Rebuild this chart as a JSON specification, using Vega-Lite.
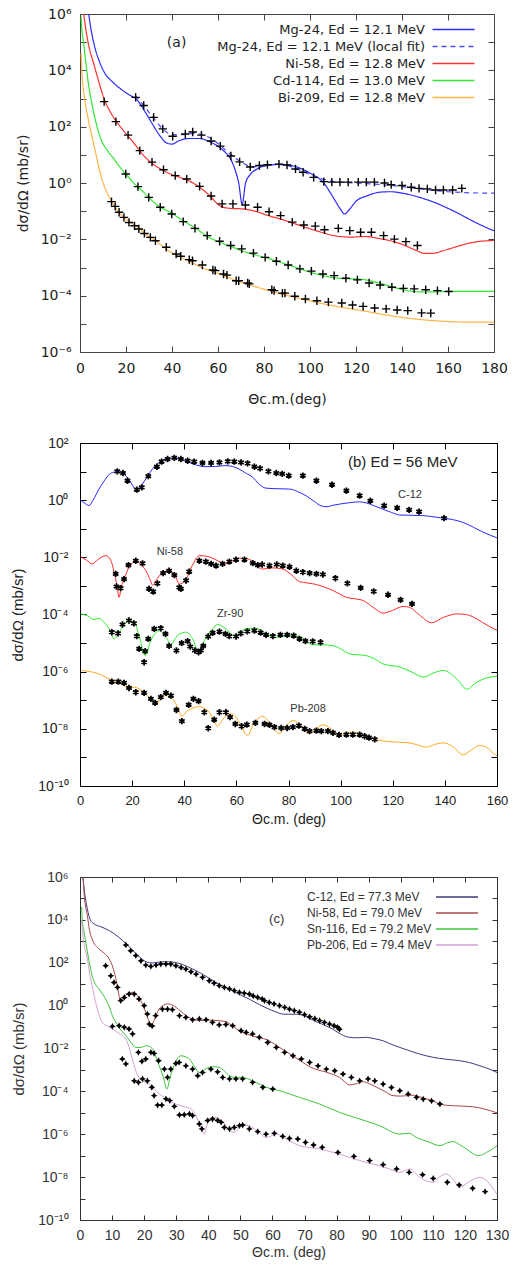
{
"$schema":"https://vega.github.io/schema/vega-lite/v6.json",
"background":"white",
"padding":{"left":10,"top":7,"right":5,"bottom":3},
"bounds":"flush",
"spacing":91,
"resolve":{"scale":{"color":"independent","strokeDash":"independent"},"legend":{"color":"independent","strokeDash":"independent"}},
"config":{"view":{"stroke":null},"axis":{"grid":false}},
"datasets":{
"aL":[
{"s":"Mg","x":3,"y":3.16e6},{"s":"Mg","x":4.5,"y":3.98e5},{"s":"Mg","x":6.5,"y":6.31e4},{"s":"Mg","x":8.5,"y":2.0e4},{"s":"Mg","x":10.5,"y":8.71e3},{"s":"Mg","x":14,"y":3.98e3},{"s":"Mg","x":17.7,"y":2.19e3},{"s":"Mg","x":21,"y":1.41e3},{"s":"Mg","x":24.8,"y":891},{"s":"Mg","x":28.5,"y":316},{"s":"Mg","x":32,"y":105},{"s":"Mg","x":35,"y":44.7},{"s":"Mg","x":37.7,"y":26.3},{"s":"Mg","x":40,"y":24},{"s":"Mg","x":43,"y":31.6},{"s":"Mg","x":47.5,"y":38},{"s":"Mg","x":52,"y":38},{"s":"Mg","x":56,"y":30.2},{"s":"Mg","x":60,"y":20},{"s":"Mg","x":63,"y":12.6},{"s":"Mg","x":65.5,"y":7.08},{"s":"Mg","x":67.5,"y":2.82},{"s":"Mg","x":69,"y":1.0},{"s":"Mg","x":70.5,"y":0.178},{"s":"Mg","x":72,"y":1.0},{"s":"Mg","x":74,"y":2.0},{"s":"Mg","x":77,"y":3.16},{"s":"Mg","x":81,"y":4.17},{"s":"Mg","x":87,"y":4.57},{"s":"Mg","x":93,"y":3.98},{"s":"Mg","x":100,"y":2.24},{"s":"Mg","x":106,"y":1.0},{"s":"Mg","x":110,"y":0.316},{"s":"Mg","x":113,"y":0.126},{"s":"Mg","x":115,"y":0.0794},{"s":"Mg","x":117,"y":0.112},{"s":"Mg","x":120,"y":0.224},{"s":"Mg","x":125,"y":0.355},{"s":"Mg","x":130,"y":0.468},{"s":"Mg","x":135,"y":0.49},{"s":"Mg","x":140,"y":0.437},{"s":"Mg","x":145,"y":0.355},{"s":"Mg","x":150,"y":0.269},{"s":"Mg","x":155,"y":0.191},{"s":"Mg","x":160,"y":0.126},{"s":"Mg","x":165,"y":0.0794},{"s":"Mg","x":170,"y":0.0479},{"s":"Mg","x":175,"y":0.0302},{"s":"Mg","x":180,"y":0.02},
{"s":"MgL","x":24,"y":1260},{"s":"MgL","x":28,"y":525},{"s":"MgL","x":32,"y":200},{"s":"MgL","x":36,"y":83.2},{"s":"MgL","x":40,"y":52.5},{"s":"MgL","x":45,"y":52.5},{"s":"MgL","x":50,"y":57.5},{"s":"MgL","x":55,"y":45.7},{"s":"MgL","x":60,"y":25.1},{"s":"MgL","x":65,"y":11.2},{"s":"MgL","x":70,"y":5.62},{"s":"MgL","x":75,"y":3.8},{"s":"MgL","x":80,"y":3.98},{"s":"MgL","x":85,"y":4.57},{"s":"MgL","x":90,"y":4.17},{"s":"MgL","x":95,"y":2.95},{"s":"MgL","x":100,"y":2.0},{"s":"MgL","x":105,"y":1.41},{"s":"MgL","x":110,"y":1.15},{"s":"MgL","x":115,"y":1.05},{"s":"MgL","x":120,"y":1.0},{"s":"MgL","x":130,"y":0.891},{"s":"MgL","x":140,"y":0.741},{"s":"MgL","x":150,"y":0.589},{"s":"MgL","x":160,"y":0.49},{"s":"MgL","x":170,"y":0.447},{"s":"MgL","x":180,"y":0.437},
{"s":"Ni","x":1.0,"y":2.51e6},{"s":"Ni","x":1.6,"y":1e6},{"s":"Ni","x":3.5,"y":1e5},{"s":"Ni","x":6.2,"y":1.48e4},{"s":"Ni","x":8.5,"y":3160},{"s":"Ni","x":10.5,"y":955},{"s":"Ni","x":13,"y":355},{"s":"Ni","x":16,"y":145},{"s":"Ni","x":19,"y":70.8},{"s":"Ni","x":22,"y":36.3},{"s":"Ni","x":25,"y":17.8},{"s":"Ni","x":27.7,"y":9.33},{"s":"Ni","x":31,"y":5.25},{"s":"Ni","x":35,"y":3.16},{"s":"Ni","x":39,"y":2.14},{"s":"Ni","x":43.5,"y":1.58},{"s":"Ni","x":48,"y":1.12},{"s":"Ni","x":52,"y":0.708},{"s":"Ni","x":56.4,"y":0.355},{"s":"Ni","x":60.7,"y":0.158},{"s":"Ni","x":65,"y":0.126},{"s":"Ni","x":70.8,"y":0.12},{"s":"Ni","x":76,"y":0.1},{"s":"Ni","x":82,"y":0.0692},{"s":"Ni","x":88,"y":0.0501},{"s":"Ni","x":93.5,"y":0.0355},{"s":"Ni","x":99,"y":0.0251},{"s":"Ni","x":105,"y":0.0178},{"s":"Ni","x":111,"y":0.0132},{"s":"Ni","x":118,"y":0.012},{"s":"Ni","x":124,"y":0.0126},{"s":"Ni","x":130,"y":0.0107},{"s":"Ni","x":135,"y":0.00891},{"s":"Ni","x":140,"y":0.00661},{"s":"Ni","x":145,"y":0.00447},{"s":"Ni","x":150,"y":0.00316},{"s":"Ni","x":153,"y":0.00316},{"s":"Ni","x":158,"y":0.00398},{"s":"Ni","x":163,"y":0.00525},{"s":"Ni","x":168,"y":0.00692},{"s":"Ni","x":173,"y":0.00832},{"s":"Ni","x":180,"y":0.00912},
{"s":"Cd","x":0.5,"y":7.94e5},{"s":"Cd","x":0.8,"y":2.95e5},{"s":"Cd","x":1.5,"y":1e5},{"s":"Cd","x":2.7,"y":1.48e4},{"s":"Cd","x":3.7,"y":3160},{"s":"Cd","x":4.8,"y":955},{"s":"Cd","x":6.5,"y":200},{"s":"Cd","x":9.1,"y":36.3},{"s":"Cd","x":12,"y":14.1},{"s":"Cd","x":14.8,"y":7.08},{"s":"Cd","x":17.5,"y":3.55},{"s":"Cd","x":20.5,"y":1.82},{"s":"Cd","x":24,"y":0.891},{"s":"Cd","x":27.7,"y":0.468},{"s":"Cd","x":31,"y":0.251},{"s":"Cd","x":35,"y":0.138},{"s":"Cd","x":39.2,"y":0.0912},{"s":"Cd","x":45,"y":0.0447},{"s":"Cd","x":50.7,"y":0.0234},{"s":"Cd","x":55,"y":0.0132},{"s":"Cd","x":60.7,"y":0.00794},{"s":"Cd","x":65.5,"y":0.00562},{"s":"Cd","x":70.8,"y":0.0038},{"s":"Cd","x":76,"y":0.00282},{"s":"Cd","x":82,"y":0.00209},{"s":"Cd","x":88,"y":0.00145},{"s":"Cd","x":93.7,"y":0.00102},{"s":"Cd","x":99,"y":7.24e-4},{"s":"Cd","x":105,"y":5.37e-4},{"s":"Cd","x":110,"y":4.37e-4},{"s":"Cd","x":116.6,"y":3.98e-4},{"s":"Cd","x":121,"y":3.89e-4},{"s":"Cd","x":125,"y":3.55e-4},{"s":"Cd","x":130,"y":2.82e-4},{"s":"Cd","x":135,"y":2.14e-4},{"s":"Cd","x":140,"y":1.66e-4},{"s":"Cd","x":145,"y":1.41e-4},{"s":"Cd","x":150,"y":1.35e-4},{"s":"Cd","x":155,"y":1.38e-4},{"s":"Cd","x":160,"y":1.41e-4},{"s":"Cd","x":170,"y":1.41e-4},{"s":"Cd","x":180,"y":1.41e-4},
{"s":"Bi","x":0.5,"y":3.98e4},{"s":"Bi","x":0.8,"y":9770},{"s":"Bi","x":2,"y":1000},{"s":"Bi","x":3.5,"y":200},{"s":"Bi","x":4.8,"y":63.1},{"s":"Bi","x":7,"y":10},{"s":"Bi","x":9.1,"y":1.82},{"s":"Bi","x":10.5,"y":0.794},{"s":"Bi","x":13.4,"y":0.251},{"s":"Bi","x":16,"y":0.112},{"s":"Bi","x":19,"y":0.0631},{"s":"Bi","x":22,"y":0.0398},{"s":"Bi","x":24.9,"y":0.0282},{"s":"Bi","x":28,"y":0.0166},{"s":"Bi","x":32,"y":0.01},{"s":"Bi","x":35.5,"y":0.00603},{"s":"Bi","x":39.2,"y":0.00363},{"s":"Bi","x":44,"y":0.00224},{"s":"Bi","x":48.5,"y":0.00151},{"s":"Bi","x":53.5,"y":9.55e-4},{"s":"Bi","x":58,"y":7.08e-4},{"s":"Bi","x":63,"y":5.01e-4},{"s":"Bi","x":67.9,"y":3.39e-4},{"s":"Bi","x":75,"y":2.24e-4},{"s":"Bi","x":82.2,"y":1.51e-4},{"s":"Bi","x":89,"y":1.07e-4},{"s":"Bi","x":96.6,"y":7.59e-5},{"s":"Bi","x":104,"y":5.5e-5},{"s":"Bi","x":110.9,"y":4.27e-5},{"s":"Bi","x":118,"y":3.39e-5},{"s":"Bi","x":125.2,"y":2.69e-5},{"s":"Bi","x":132,"y":2.14e-5},{"s":"Bi","x":139.6,"y":1.7e-5},{"s":"Bi","x":147,"y":1.45e-5},{"s":"Bi","x":153.9,"y":1.29e-5},{"s":"Bi","x":161,"y":1.2e-5},{"s":"Bi","x":168.3,"y":1.15e-5},{"s":"Bi","x":175,"y":1.15e-5},{"s":"Bi","x":180,"y":1.15e-5}
],
"aP":[
{"s":"Mg","x":24.2,"y":1100},{"s":"Mg","x":27.7,"y":562},{"s":"Mg","x":32,"y":214},{"s":"Mg","x":36,"y":83.2},{"s":"Mg","x":40.3,"y":45.7},{"s":"Mg","x":45.8,"y":55},{"s":"Mg","x":49,"y":64.6},{"s":"Mg","x":52.8,"y":50.1},{"s":"Mg","x":57,"y":30.9},{"s":"Mg","x":61,"y":20.4},{"s":"Mg","x":65.6,"y":9.12},{"s":"Mg","x":69.4,"y":5.62},{"s":"Mg","x":74,"y":3.72},{"s":"Mg","x":78,"y":4.17},{"s":"Mg","x":81.5,"y":4.47},{"s":"Mg","x":86.5,"y":4.68},{"s":"Mg","x":90,"y":4.37},{"s":"Mg","x":93.7,"y":3.16},{"s":"Mg","x":97,"y":2.4},{"s":"Mg","x":101.6,"y":1.58},{"s":"Mg","x":106,"y":1.12},{"s":"Mg","x":109.5,"y":1.07},{"s":"Mg","x":113,"y":1.07},{"s":"Mg","x":116.6,"y":1.07},{"s":"Mg","x":121,"y":1.07},{"s":"Mg","x":124.5,"y":1.07},{"s":"Mg","x":128,"y":1.07},{"s":"Mg","x":132.4,"y":1.0},{"s":"Mg","x":135.3,"y":0.871},{"s":"Mg","x":140,"y":0.813},{"s":"Mg","x":144,"y":0.708},{"s":"Mg","x":147.4,"y":0.646},{"s":"Mg","x":151,"y":0.617},{"s":"Mg","x":154.6,"y":0.562},{"s":"Mg","x":158,"y":0.562},{"s":"Mg","x":162,"y":0.562},{"s":"Mg","x":166,"y":0.646},
{"s":"Ni","x":10.5,"y":776},{"s":"Ni","x":15.6,"y":151},{"s":"Ni","x":20.9,"y":50.1},{"s":"Ni","x":26,"y":14.1},{"s":"Ni","x":31.3,"y":5.5},{"s":"Ni","x":36.3,"y":2.95},{"s":"Ni","x":41.4,"y":1.82},{"s":"Ni","x":46.4,"y":1.38},{"s":"Ni","x":52,"y":0.759},{"s":"Ni","x":57,"y":0.347},{"s":"Ni","x":61.8,"y":0.182},{"s":"Ni","x":66.5,"y":0.182},{"s":"Ni","x":71.9,"y":0.166},{"s":"Ni","x":77.2,"y":0.138},{"s":"Ni","x":82.2,"y":0.0955},{"s":"Ni","x":87.2,"y":0.0692},{"s":"Ni","x":92.3,"y":0.0407},{"s":"Ni","x":97.3,"y":0.0324},{"s":"Ni","x":102.3,"y":0.0295},{"s":"Ni","x":106.3,"y":0.0219},{"s":"Ni","x":112.3,"y":0.0245},{"s":"Ni","x":117.3,"y":0.0204},{"s":"Ni","x":122,"y":0.0178},{"s":"Ni","x":126.7,"y":0.0178},{"s":"Ni","x":132,"y":0.0135},{"s":"Ni","x":136.7,"y":0.0102},{"s":"Ni","x":141.7,"y":0.00832},{"s":"Ni","x":146.7,"y":0.00603},
{"s":"Cd","x":19.9,"y":2.09},{"s":"Cd","x":25.2,"y":0.741},{"s":"Cd","x":29.9,"y":0.309},{"s":"Cd","x":34.9,"y":0.138},{"s":"Cd","x":39.9,"y":0.0794},{"s":"Cd","x":44.9,"y":0.0427},{"s":"Cd","x":50,"y":0.0245},{"s":"Cd","x":55.3,"y":0.0135},{"s":"Cd","x":60.7,"y":0.00851},{"s":"Cd","x":65.5,"y":0.00603},{"s":"Cd","x":70.3,"y":0.00457},{"s":"Cd","x":75.4,"y":0.00324},{"s":"Cd","x":80.5,"y":0.00229},{"s":"Cd","x":85.4,"y":0.00166},{"s":"Cd","x":90.5,"y":0.00123},{"s":"Cd","x":95.6,"y":8.91e-4},{"s":"Cd","x":100.6,"y":7.41e-4},{"s":"Cd","x":105.6,"y":5.89e-4},{"s":"Cd","x":110.5,"y":5.13e-4},{"s":"Cd","x":115.6,"y":4.17e-4},{"s":"Cd","x":120.6,"y":3.63e-4},{"s":"Cd","x":125.7,"y":2.82e-4},{"s":"Cd","x":130.5,"y":2.4e-4},{"s":"Cd","x":135.6,"y":2.0e-4},{"s":"Cd","x":140.6,"y":1.82e-4},{"s":"Cd","x":145.3,"y":1.74e-4},{"s":"Cd","x":150.3,"y":1.62e-4},{"s":"Cd","x":155.4,"y":1.51e-4},{"s":"Cd","x":160.3,"y":1.41e-4},
{"s":"Bi","x":13.7,"y":0.219},{"s":"Bi","x":15.3,"y":0.148},{"s":"Bi","x":17,"y":0.0912},{"s":"Bi","x":19.1,"y":0.0603},{"s":"Bi","x":21.3,"y":0.0398},{"s":"Bi","x":23.7,"y":0.0302},{"s":"Bi","x":25.6,"y":0.0234},{"s":"Bi","x":28,"y":0.0162},{"s":"Bi","x":30.6,"y":0.0117},{"s":"Bi","x":32.8,"y":0.00891},{"s":"Bi","x":37.5,"y":0.00525},{"s":"Bi","x":41.8,"y":0.00302},{"s":"Bi","x":43.8,"y":0.00251},{"s":"Bi","x":47.5,"y":0.00191},{"s":"Bi","x":48.9,"y":0.00174},{"s":"Bi","x":53.2,"y":0.00123},{"s":"Bi","x":57.8,"y":8.13e-4},{"s":"Bi","x":58.8,"y":7.76e-4},{"s":"Bi","x":62.4,"y":5.89e-4},{"s":"Bi","x":63.9,"y":5.37e-4},{"s":"Bi","x":67.9,"y":3.39e-4},{"s":"Bi","x":69,"y":3.39e-4},{"s":"Bi","x":72.9,"y":2.82e-4},{"s":"Bi","x":73.6,"y":2.63e-4},{"s":"Bi","x":83.4,"y":1.62e-4},{"s":"Bi","x":84.4,"y":1.51e-4},{"s":"Bi","x":88,"y":1.23e-4},{"s":"Bi","x":89.1,"y":1.23e-4},{"s":"Bi","x":93.4,"y":9.55e-5},{"s":"Bi","x":98,"y":7.59e-5},{"s":"Bi","x":103,"y":6.61e-5},{"s":"Bi","x":108,"y":5.89e-5},{"s":"Bi","x":113.8,"y":5.5e-5},{"s":"Bi","x":118.5,"y":4.68e-5},{"s":"Bi","x":123.1,"y":4.17e-5},{"s":"Bi","x":128.1,"y":3.63e-5},{"s":"Bi","x":133.1,"y":3.39e-5},{"s":"Bi","x":137.9,"y":3.09e-5},{"s":"Bi","x":142.5,"y":2.95e-5},{"s":"Bi","x":148.5,"y":2.45e-5},{"s":"Bi","x":152.5,"y":2.4e-5}
],
"bL":[
{"s":"C","x":0.3,"y":1.0},{"s":"C","x":2,"y":0.759},{"s":"C","x":3.5,"y":0.646},{"s":"C","x":5,"y":1.0},{"s":"C","x":7.3,"y":2.45},{"s":"C","x":9.5,"y":5.01},{"s":"C","x":11.2,"y":7.94},{"s":"C","x":13,"y":9.55},{"s":"C","x":15,"y":10},{"s":"C","x":17,"y":7.94},{"s":"C","x":18.8,"y":5.25},{"s":"C","x":20.3,"y":3.16},{"s":"C","x":21.4,"y":2.4},{"s":"C","x":22.5,"y":2.51},{"s":"C","x":24,"y":3.72},{"s":"C","x":26,"y":7.08},{"s":"C","x":27.8,"y":12.3},{"s":"C","x":30,"y":20},{"s":"C","x":33,"y":27.5},{"s":"C","x":36,"y":29.5},{"s":"C","x":38,"y":28.8},{"s":"C","x":40.5,"y":24},{"s":"C","x":43.2,"y":18.6},{"s":"C","x":46,"y":15.8},{"s":"C","x":48.3,"y":14.8},{"s":"C","x":52,"y":15.1},{"s":"C","x":56,"y":16.2},{"s":"C","x":58.5,"y":15.1},{"s":"C","x":61,"y":12.3},{"s":"C","x":63.5,"y":8.91},{"s":"C","x":66.3,"y":6.31},{"s":"C","x":68.5,"y":3.8},{"s":"C","x":71.4,"y":2.63},{"s":"C","x":76,"y":2.51},{"s":"C","x":80.4,"y":2.45},{"s":"C","x":83.5,"y":2.0},{"s":"C","x":86.8,"y":1.41},{"s":"C","x":90,"y":0.891},{"s":"C","x":92.5,"y":0.631},{"s":"C","x":94.5,"y":0.589},{"s":"C","x":97.5,"y":0.676},{"s":"C","x":100.9,"y":0.759},{"s":"C","x":104,"y":0.832},{"s":"C","x":107.3,"y":0.871},{"s":"C","x":110,"y":0.794},{"s":"C","x":113,"y":0.631},{"s":"C","x":116.3,"y":0.479},{"s":"C","x":119.5,"y":0.372},{"s":"C","x":122.7,"y":0.302},{"s":"C","x":127,"y":0.295},{"s":"C","x":131.7,"y":0.288},{"s":"C","x":135.5,"y":0.263},{"s":"C","x":139.4,"y":0.234},{"s":"C","x":143,"y":0.209},{"s":"C","x":147,"y":0.166},{"s":"C","x":151,"y":0.112},{"s":"C","x":154.7,"y":0.0759},{"s":"C","x":160,"y":0.0479},
{"s":"Ni","x":0.3,"y":0.0105},{"s":"Ni","x":2.5,"y":0.00794},{"s":"Ni","x":4.7,"y":0.00589},{"s":"Ni","x":7,"y":0.00851},{"s":"Ni","x":9.9,"y":0.0115},{"s":"Ni","x":11.8,"y":0.00794},{"s":"Ni","x":13.1,"y":0.00302},{"s":"Ni","x":14.2,"y":0.001},{"s":"Ni","x":15,"y":3.98e-4},{"s":"Ni","x":15.8,"y":8.91e-4},{"s":"Ni","x":16.9,"y":0.00174},{"s":"Ni","x":18.5,"y":0.00398},{"s":"Ni","x":20.1,"y":0.00631},{"s":"Ni","x":21.4,"y":0.00759},{"s":"Ni","x":23.3,"y":0.00562},{"s":"Ni","x":25.3,"y":0.00339},{"s":"Ni","x":27,"y":0.00158},{"s":"Ni","x":27.8,"y":0.00107},{"s":"Ni","x":29,"y":0.00141},{"s":"Ni","x":30.4,"y":0.00229},{"s":"Ni","x":32.3,"y":0.00316},{"s":"Ni","x":34.2,"y":0.00339},{"s":"Ni","x":36.5,"y":0.00224},{"s":"Ni","x":38.1,"y":0.00117},{"s":"Ni","x":39.3,"y":0.00126},{"s":"Ni","x":40.7,"y":0.00174},{"s":"Ni","x":43,"y":0.00501},{"s":"Ni","x":45.8,"y":0.0115},{"s":"Ni","x":48,"y":0.0112},{"s":"Ni","x":50.9,"y":0.00933},{"s":"Ni","x":53.5,"y":0.00708},{"s":"Ni","x":56,"y":0.00589},{"s":"Ni","x":58.5,"y":0.00759},{"s":"Ni","x":61.2,"y":0.00933},{"s":"Ni","x":64,"y":0.00891},{"s":"Ni","x":66.3,"y":0.00724},{"s":"Ni","x":68.5,"y":0.00447},{"s":"Ni","x":70.1,"y":0.00389},{"s":"Ni","x":74,"y":0.00427},{"s":"Ni","x":77.8,"y":0.00389},{"s":"Ni","x":81,"y":0.00251},{"s":"Ni","x":84.2,"y":0.00141},{"s":"Ni","x":87.5,"y":0.00126},{"s":"Ni","x":90.7,"y":0.00112},{"s":"Ni","x":94,"y":8.91e-4},{"s":"Ni","x":97,"y":6.92e-4},{"s":"Ni","x":100,"y":5.01e-4},{"s":"Ni","x":102.2,"y":3.98e-4},{"s":"Ni","x":105.5,"y":3.55e-4},{"s":"Ni","x":108.6,"y":3.09e-4},{"s":"Ni","x":112.5,"y":1.78e-4},{"s":"Ni","x":116.3,"y":1.12e-4},{"s":"Ni","x":120,"y":1.41e-4},{"s":"Ni","x":124,"y":1.91e-4},{"s":"Ni","x":126.5,"y":1.78e-4},{"s":"Ni","x":130,"y":1e-4},{"s":"Ni","x":134.9,"y":5.13e-5},{"s":"Ni","x":139.5,"y":7.94e-5},{"s":"Ni","x":144.5,"y":1.05e-4},{"s":"Ni","x":148,"y":1e-4},{"s":"Ni","x":150.9,"y":8.13e-5},{"s":"Ni","x":154.5,"y":5.25e-5},{"s":"Ni","x":158.8,"y":3.16e-5},{"s":"Ni","x":160,"y":2.82e-5},
{"s":"Zr","x":0.3,"y":1.05e-4},{"s":"Zr","x":3,"y":8.91e-5},{"s":"Zr","x":5.4,"y":6.61e-5},{"s":"Zr","x":7.3,"y":7.41e-5},{"s":"Zr","x":9.5,"y":5.01e-5},{"s":"Zr","x":11.2,"y":3.16e-5},{"s":"Zr","x":13.1,"y":1.41e-5},{"s":"Zr","x":15,"y":2.4e-5},{"s":"Zr","x":17,"y":4.47e-5},{"s":"Zr","x":18.8,"y":6.17e-5},{"s":"Zr","x":20.8,"y":5.37e-5},{"s":"Zr","x":22.7,"y":1.82e-5},{"s":"Zr","x":25,"y":3.63e-6},{"s":"Zr","x":27.2,"y":1.23e-5},{"s":"Zr","x":30.4,"y":2.75e-5},{"s":"Zr","x":33,"y":1.58e-5},{"s":"Zr","x":34.9,"y":8.91e-6},{"s":"Zr","x":36.5,"y":1.41e-5},{"s":"Zr","x":38.1,"y":2.09e-5},{"s":"Zr","x":40.7,"y":2.4e-5},{"s":"Zr","x":43.2,"y":1.41e-5},{"s":"Zr","x":45.5,"y":4.79e-6},{"s":"Zr","x":47.7,"y":1.23e-5},{"s":"Zr","x":50.9,"y":3.16e-5},{"s":"Zr","x":52.8,"y":4.47e-5},{"s":"Zr","x":56,"y":3.16e-5},{"s":"Zr","x":59.2,"y":1.82e-5},{"s":"Zr","x":61.5,"y":2.51e-5},{"s":"Zr","x":63.7,"y":3.16e-5},{"s":"Zr","x":67.6,"y":3.31e-5},{"s":"Zr","x":71.4,"y":2.09e-5},{"s":"Zr","x":75.3,"y":1.58e-5},{"s":"Zr","x":80.4,"y":1.95e-5},{"s":"Zr","x":85.5,"y":1.48e-5},{"s":"Zr","x":89.3,"y":8.71e-6},{"s":"Zr","x":93,"y":8.71e-6},{"s":"Zr","x":97,"y":8.13e-6},{"s":"Zr","x":100,"y":6.31e-6},{"s":"Zr","x":103.5,"y":4.17e-6},{"s":"Zr","x":109.9,"y":3.63e-6},{"s":"Zr","x":113,"y":2.82e-6},{"s":"Zr","x":116.3,"y":1.86e-6},{"s":"Zr","x":122.7,"y":1.45e-6},{"s":"Zr","x":127,"y":1e-6},{"s":"Zr","x":131.7,"y":6.46e-7},{"s":"Zr","x":135.5,"y":8.91e-7},{"s":"Zr","x":139.4,"y":1.1e-6},{"s":"Zr","x":142,"y":8.91e-7},{"s":"Zr","x":144.5,"y":5.62e-7},{"s":"Zr","x":148.7,"y":2.4e-7},{"s":"Zr","x":151,"y":3.55e-7},{"s":"Zr","x":153.5,"y":4.9e-7},{"s":"Zr","x":156,"y":6.03e-7},{"s":"Zr","x":160,"y":6.92e-7},
{"s":"Pb","x":0.3,"y":1.1e-6},{"s":"Pb","x":4,"y":1e-6},{"s":"Pb","x":7.3,"y":8.32e-7},{"s":"Pb","x":10,"y":6.31e-7},{"s":"Pb","x":12.4,"y":4.9e-7},{"s":"Pb","x":15.5,"y":3.8e-7},{"s":"Pb","x":18.8,"y":2.82e-7},{"s":"Pb","x":21,"y":2.82e-7},{"s":"Pb","x":22.7,"y":2.51e-7},{"s":"Pb","x":25,"y":1.78e-7},{"s":"Pb","x":27,"y":1.12e-7},{"s":"Pb","x":29.1,"y":6.92e-8},{"s":"Pb","x":31,"y":1.12e-7},{"s":"Pb","x":33,"y":1.45e-7},{"s":"Pb","x":35.5,"y":1.12e-7},{"s":"Pb","x":37.5,"y":5.62e-8},{"s":"Pb","x":39.1,"y":2.75e-8},{"s":"Pb","x":40.8,"y":3.98e-8},{"s":"Pb","x":42.6,"y":5.01e-8},{"s":"Pb","x":45.8,"y":6.03e-8},{"s":"Pb","x":48,"y":5.01e-8},{"s":"Pb","x":49.6,"y":3.8e-8},{"s":"Pb","x":51.3,"y":2.0e-8},{"s":"Pb","x":52.8,"y":1.23e-8},{"s":"Pb","x":54.5,"y":2.0e-8},{"s":"Pb","x":57.3,"y":3.31e-8},{"s":"Pb","x":58.5,"y":3.31e-8},{"s":"Pb","x":61,"y":1.78e-8},{"s":"Pb","x":64.3,"y":5.89e-9},{"s":"Pb","x":66.5,"y":1.41e-8},{"s":"Pb","x":70.1,"y":2.75e-8},{"s":"Pb","x":72.5,"y":1.78e-8},{"s":"Pb","x":76.5,"y":6.76e-9},{"s":"Pb","x":79,"y":1.26e-8},{"s":"Pb","x":81.7,"y":1.95e-8},{"s":"Pb","x":84.5,"y":1.41e-8},{"s":"Pb","x":87.8,"y":6.76e-9},{"s":"Pb","x":90.5,"y":1e-8},{"s":"Pb","x":93.2,"y":1.38e-8},{"s":"Pb","x":96,"y":1.05e-8},{"s":"Pb","x":99.6,"y":5.89e-9},{"s":"Pb","x":102,"y":7.08e-9},{"s":"Pb","x":104.7,"y":7.59e-9},{"s":"Pb","x":108,"y":6.31e-9},{"s":"Pb","x":112.4,"y":4.47e-9},{"s":"Pb","x":117,"y":3.72e-9},{"s":"Pb","x":122.7,"y":3.39e-9},{"s":"Pb","x":127,"y":3.16e-9},{"s":"Pb","x":130,"y":2.63e-9},{"s":"Pb","x":133,"y":2.29e-9},{"s":"Pb","x":136,"y":2.82e-9},{"s":"Pb","x":139.4,"y":3.24e-9},{"s":"Pb","x":143,"y":2.4e-9},{"s":"Pb","x":147,"y":1.23e-9},{"s":"Pb","x":150,"y":1.78e-9},{"s":"Pb","x":153.5,"y":2.63e-9},{"s":"Pb","x":156,"y":2.24e-9},{"s":"Pb","x":158.8,"y":1.35e-9},{"s":"Pb","x":160,"y":1.12e-9}
],
"bP":[
{"s":"C","x":14.3,"y":10.2},{"s":"C","x":16.5,"y":8.91},{"s":"C","x":18.2,"y":4.79},{"s":"C","x":21.8,"y":2.34},{"s":"C","x":23.7,"y":2.82},{"s":"C","x":26.2,"y":6.92},{"s":"C","x":29.5,"y":14.8},{"s":"C","x":31.3,"y":22.4},{"s":"C","x":33.6,"y":27.5},{"s":"C","x":36.2,"y":30.2},{"s":"C","x":38.7,"y":27.5},{"s":"C","x":41.3,"y":24},{"s":"C","x":43.8,"y":22.4},{"s":"C","x":47,"y":20},{"s":"C","x":50.3,"y":20},{"s":"C","x":53.5,"y":20.9},{"s":"C","x":56.7,"y":22.9},{"s":"C","x":59.2,"y":22.4},{"s":"C","x":61.8,"y":20.9},{"s":"C","x":64.3,"y":19.5},{"s":"C","x":66.9,"y":14.8},{"s":"C","x":69.1,"y":12.9},{"s":"C","x":72.3,"y":10.2},{"s":"C","x":75.3,"y":8.91},{"s":"C","x":77.6,"y":8.32},{"s":"C","x":80.1,"y":7.24},{"s":"C","x":85.5,"y":7.24},{"s":"C","x":90.7,"y":4.79},{"s":"C","x":96.7,"y":3.47},{"s":"C","x":102.2,"y":2.14},{"s":"C","x":107.3,"y":1.45},{"s":"C","x":111.4,"y":0.955},{"s":"C","x":116.7,"y":0.646},{"s":"C","x":121.7,"y":0.537},{"s":"C","x":126.3,"y":0.457},{"s":"C","x":130.1,"y":0.398},{"s":"C","x":139.7,"y":0.234},
{"s":"Ni","x":13.7,"y":0.00263},{"s":"Ni","x":14,"y":9.55e-4},{"s":"Ni","x":15.6,"y":8.32e-4},{"s":"Ni","x":16.9,"y":0.00174},{"s":"Ni","x":18.6,"y":0.00537},{"s":"Ni","x":21.4,"y":0.00759},{"s":"Ni","x":24,"y":0.00617},{"s":"Ni","x":26.5,"y":7.94e-4},{"s":"Ni","x":28.1,"y":6.31e-4},{"s":"Ni","x":29.7,"y":0.00123},{"s":"Ni","x":31.9,"y":0.00282},{"s":"Ni","x":34.2,"y":0.00339},{"s":"Ni","x":36.2,"y":0.0024},{"s":"Ni","x":38.1,"y":8.91e-4},{"s":"Ni","x":38.7,"y":7.94e-4},{"s":"Ni","x":40.7,"y":0.00155},{"s":"Ni","x":41.9,"y":0.00316},{"s":"Ni","x":45.8,"y":0.00759},{"s":"Ni","x":48.3,"y":0.00708},{"s":"Ni","x":50.3,"y":0.00589},{"s":"Ni","x":52.2,"y":0.00513},{"s":"Ni","x":54.7,"y":0.00589},{"s":"Ni","x":57.3,"y":0.00708},{"s":"Ni","x":59.9,"y":0.00832},{"s":"Ni","x":63.1,"y":0.00832},{"s":"Ni","x":66.3,"y":0.00631},{"s":"Ni","x":68.2,"y":0.00537},{"s":"Ni","x":69.9,"y":0.00562},{"s":"Ni","x":72.7,"y":0.00513},{"s":"Ni","x":75.5,"y":0.00562},{"s":"Ni","x":77.8,"y":0.00513},{"s":"Ni","x":80.4,"y":0.00468},{"s":"Ni","x":83,"y":0.00339},{"s":"Ni","x":85.5,"y":0.00302},{"s":"Ni","x":88.1,"y":0.00282},{"s":"Ni","x":90.7,"y":0.00263},{"s":"Ni","x":93.2,"y":0.00251},{"s":"Ni","x":98,"y":0.00186},{"s":"Ni","x":102.6,"y":0.00123},{"s":"Ni","x":107.7,"y":8.51e-4},{"s":"Ni","x":112.7,"y":6.46e-4},{"s":"Ni","x":118.2,"y":4.9e-4},{"s":"Ni","x":123,"y":3.24e-4},{"s":"Ni","x":127.4,"y":2.34e-4},
{"s":"Zr","x":12.2,"y":2.4e-5},{"s":"Zr","x":14.6,"y":2.19e-5},{"s":"Zr","x":16.3,"y":4.47e-5},{"s":"Zr","x":18.8,"y":6.17e-5},{"s":"Zr","x":20.7,"y":4.9e-5},{"s":"Zr","x":21.8,"y":1.74e-5},{"s":"Zr","x":22.7,"y":6.31e-6},{"s":"Zr","x":24.6,"y":2.14e-6},{"s":"Zr","x":25,"y":5.25e-6},{"s":"Zr","x":26.2,"y":1.41e-5},{"s":"Zr","x":28.5,"y":3.16e-5},{"s":"Zr","x":31,"y":3.31e-5},{"s":"Zr","x":32.8,"y":2.09e-5},{"s":"Zr","x":34.2,"y":7.94e-6},{"s":"Zr","x":37,"y":5.5e-6},{"s":"Zr","x":39,"y":1e-5},{"s":"Zr","x":41.3,"y":1.17e-5},{"s":"Zr","x":42.3,"y":7.59e-6},{"s":"Zr","x":44.1,"y":5.5e-6},{"s":"Zr","x":45.5,"y":4.79e-6},{"s":"Zr","x":46.4,"y":5.5e-6},{"s":"Zr","x":47.3,"y":7.94e-6},{"s":"Zr","x":49.2,"y":1.7e-5},{"s":"Zr","x":50.9,"y":2.29e-5},{"s":"Zr","x":53.5,"y":2.51e-5},{"s":"Zr","x":55.8,"y":2.09e-5},{"s":"Zr","x":57.3,"y":1.74e-5},{"s":"Zr","x":59.9,"y":1.7e-5},{"s":"Zr","x":61.7,"y":2.19e-5},{"s":"Zr","x":64.2,"y":2.57e-5},{"s":"Zr","x":66.9,"y":2.75e-5},{"s":"Zr","x":69.3,"y":2.34e-5},{"s":"Zr","x":71.4,"y":1.95e-5},{"s":"Zr","x":74,"y":1.74e-5},{"s":"Zr","x":76.9,"y":1.95e-5},{"s":"Zr","x":79.5,"y":1.95e-5},{"s":"Zr","x":82,"y":1.82e-5},{"s":"Zr","x":84.2,"y":1.41e-5},{"s":"Zr","x":86.5,"y":1.17e-5},{"s":"Zr","x":89.3,"y":1.15e-5},{"s":"Zr","x":92.3,"y":1.07e-5},
{"s":"Pb","x":12.2,"y":4.47e-7},{"s":"Pb","x":14.7,"y":4.47e-7},{"s":"Pb","x":16.9,"y":4.07e-7},{"s":"Pb","x":18.8,"y":2.69e-7},{"s":"Pb","x":21.4,"y":1.91e-7},{"s":"Pb","x":24.6,"y":1.82e-7},{"s":"Pb","x":27.2,"y":1.12e-7},{"s":"Pb","x":28.8,"y":8.13e-8},{"s":"Pb","x":31,"y":1.29e-7},{"s":"Pb","x":33,"y":1.82e-7},{"s":"Pb","x":34.9,"y":1.45e-7},{"s":"Pb","x":37,"y":4.57e-8},{"s":"Pb","x":39.1,"y":1.86e-8},{"s":"Pb","x":41.7,"y":6.92e-8},{"s":"Pb","x":43.5,"y":1.12e-7},{"s":"Pb","x":45.5,"y":9.33e-8},{"s":"Pb","x":47.7,"y":3.8e-8},{"s":"Pb","x":49.2,"y":1.05e-8},{"s":"Pb","x":51.5,"y":2.09e-8},{"s":"Pb","x":53.5,"y":3.8e-8},{"s":"Pb","x":56,"y":3.8e-8},{"s":"Pb","x":57.6,"y":2.57e-8},{"s":"Pb","x":59.6,"y":1.48e-8},{"s":"Pb","x":62,"y":1.23e-8},{"s":"Pb","x":64,"y":1.41e-8},{"s":"Pb","x":67.3,"y":1.62e-8},{"s":"Pb","x":70.8,"y":1.48e-8},{"s":"Pb","x":72.7,"y":1.38e-8},{"s":"Pb","x":74.6,"y":1.15e-8},{"s":"Pb","x":77.2,"y":1.07e-8},{"s":"Pb","x":79.5,"y":1.07e-8},{"s":"Pb","x":81.7,"y":1.15e-8},{"s":"Pb","x":84,"y":1.29e-8},{"s":"Pb","x":86.2,"y":1e-8},{"s":"Pb","x":88.1,"y":8.32e-9},{"s":"Pb","x":90.7,"y":8.71e-9},{"s":"Pb","x":92.6,"y":8.32e-9},{"s":"Pb","x":95.1,"y":8.32e-9},{"s":"Pb","x":97.1,"y":7.24e-9},{"s":"Pb","x":99.4,"y":6.17e-9},{"s":"Pb","x":102.2,"y":6.31e-9},{"s":"Pb","x":104.7,"y":6.31e-9},{"s":"Pb","x":107.3,"y":6.31e-9},{"s":"Pb","x":109.2,"y":5.5e-9},{"s":"Pb","x":110.9,"y":4.9e-9},{"s":"Pb","x":113.1,"y":4.27e-9}
],
"cL":[
{"s":"C","x":0.5,"y":3.98e6},{"s":"C","x":0.9,"y":1e6},{"s":"C","x":1.5,"y":1.58e5},{"s":"C","x":2.3,"y":3.16e4},{"s":"C","x":3.2,"y":1e4},{"s":"C","x":4.4,"y":6460},{"s":"C","x":6.5,"y":4790},{"s":"C","x":9.1,"y":3160},{"s":"C","x":12.2,"y":1510},{"s":"C","x":14.3,"y":794},{"s":"C","x":16.3,"y":398},{"s":"C","x":18,"y":224},{"s":"C","x":19.5,"y":141},{"s":"C","x":21,"y":105},{"s":"C","x":22.6,"y":97.7},{"s":"C","x":24.5,"y":107},{"s":"C","x":26.8,"y":112},{"s":"C","x":29,"y":107},{"s":"C","x":32,"y":83.2},{"s":"C","x":34.5,"y":56.2},{"s":"C","x":37.2,"y":35.5},{"s":"C","x":40,"y":20},{"s":"C","x":42.4,"y":12},{"s":"C","x":45,"y":7.59},{"s":"C","x":47.6,"y":4.9},{"s":"C","x":50,"y":3.16},{"s":"C","x":52.8,"y":2.0},{"s":"C","x":55.9,"y":1.12},{"s":"C","x":58,"y":0.794},{"s":"C","x":61.2,"y":0.501},{"s":"C","x":63.5,"y":0.398},{"s":"C","x":65.3,"y":0.398},{"s":"C","x":67.5,"y":0.398},{"s":"C","x":69.5,"y":0.355},{"s":"C","x":71.6,"y":0.251},{"s":"C","x":73.7,"y":0.178},{"s":"C","x":76,"y":0.126},{"s":"C","x":78.8,"y":0.0794},{"s":"C","x":81.5,"y":0.0447},{"s":"C","x":84,"y":0.0331},{"s":"C","x":86.5,"y":0.0316},{"s":"C","x":89.3,"y":0.0331},{"s":"C","x":92,"y":0.0282},{"s":"C","x":94.5,"y":0.0229},{"s":"C","x":97,"y":0.0158},{"s":"C","x":99.7,"y":0.0112},{"s":"C","x":103,"y":0.00759},{"s":"C","x":105.9,"y":0.0055},{"s":"C","x":110.1,"y":0.00389},{"s":"C","x":114,"y":0.00316},{"s":"C","x":118.4,"y":0.00269},{"s":"C","x":121.5,"y":0.00219},{"s":"C","x":124.7,"y":0.00155},{"s":"C","x":127.5,"y":0.00112},{"s":"C","x":130,"y":7.59e-4},
{"s":"Ni","x":0.8,"y":3.16e6},{"s":"Ni","x":1.25,"y":1.91e5},{"s":"Ni","x":2.3,"y":1.55e4},{"s":"Ni","x":3.0,"y":3160},{"s":"Ni","x":3.8,"y":1260},{"s":"Ni","x":5.9,"y":437},{"s":"Ni","x":7.5,"y":282},{"s":"Ni","x":9.1,"y":151},{"s":"Ni","x":10.2,"y":63.1},{"s":"Ni","x":11.2,"y":17.4},{"s":"Ni","x":12,"y":3.98},{"s":"Ni","x":12.7,"y":1.41},{"s":"Ni","x":13.5,"y":2.24},{"s":"Ni","x":14.3,"y":3.16},{"s":"Ni","x":15.3,"y":3.98},{"s":"Ni","x":16.3,"y":4.17},{"s":"Ni","x":17.3,"y":3.55},{"s":"Ni","x":18.4,"y":2.4},{"s":"Ni","x":19.5,"y":1.12},{"s":"Ni","x":20.5,"y":0.49},{"s":"Ni","x":21.3,"y":0.224},{"s":"Ni","x":22.1,"y":0.115},{"s":"Ni","x":22.8,"y":0.158},{"s":"Ni","x":23.7,"y":0.355},{"s":"Ni","x":24.7,"y":0.692},{"s":"Ni","x":26,"y":1.05},{"s":"Ni","x":27.3,"y":1.2},{"s":"Ni","x":28.5,"y":1.12},{"s":"Ni","x":29.9,"y":0.832},{"s":"Ni","x":31.5,"y":0.537},{"s":"Ni","x":33,"y":0.339},{"s":"Ni","x":35,"y":0.24},{"s":"Ni","x":37.2,"y":0.2},{"s":"Ni","x":40,"y":0.209},{"s":"Ni","x":43,"y":0.2},{"s":"Ni","x":45.5,"y":0.178},{"s":"Ni","x":47.6,"y":0.112},{"s":"Ni","x":50,"y":0.0631},{"s":"Ni","x":53,"y":0.0417},{"s":"Ni","x":56,"y":0.0316},{"s":"Ni","x":58.5,"y":0.0251},{"s":"Ni","x":61.2,"y":0.0141},{"s":"Ni","x":63.8,"y":0.00794},{"s":"Ni","x":66.4,"y":0.00447},{"s":"Ni","x":69,"y":0.00251},{"s":"Ni","x":71.6,"y":0.00141},{"s":"Ni","x":74.2,"y":0.001},{"s":"Ni","x":76.8,"y":7.94e-4},{"s":"Ni","x":79,"y":6.03e-4},{"s":"Ni","x":80.9,"y":4.47e-4},{"s":"Ni","x":82.5,"y":2.82e-4},{"s":"Ni","x":84,"y":2.0e-4},{"s":"Ni","x":86,"y":2.24e-4},{"s":"Ni","x":88.2,"y":2.82e-4},{"s":"Ni","x":90.3,"y":2.24e-4},{"s":"Ni","x":92.4,"y":1.58e-4},{"s":"Ni","x":95,"y":1e-4},{"s":"Ni","x":97.6,"y":6.31e-5},{"s":"Ni","x":100,"y":6.03e-5},{"s":"Ni","x":101.8,"y":6.31e-5},{"s":"Ni","x":103.8,"y":6.61e-5},{"s":"Ni","x":105.9,"y":5.62e-5},{"s":"Ni","x":108,"y":4.47e-5},{"s":"Ni","x":110.1,"y":3.55e-5},{"s":"Ni","x":112,"y":2.63e-5},{"s":"Ni","x":114.3,"y":2.24e-5},{"s":"Ni","x":118,"y":2.09e-5},{"s":"Ni","x":122.6,"y":1.91e-5},{"s":"Ni","x":126,"y":1.51e-5},{"s":"Ni","x":130,"y":1e-5},
{"s":"Sn","x":0.5,"y":3.98e4},{"s":"Sn","x":0.7,"y":1.1e4},{"s":"Sn","x":1.2,"y":3160},{"s":"Sn","x":1.8,"y":891},{"s":"Sn","x":2.8,"y":126},{"s":"Sn","x":3.8,"y":24.5},{"s":"Sn","x":4.8,"y":10},{"s":"Sn","x":5.9,"y":6.03},{"s":"Sn","x":7,"y":3.55},{"s":"Sn","x":8,"y":2.04},{"s":"Sn","x":9,"y":1.0},{"s":"Sn","x":10.1,"y":0.339},{"s":"Sn","x":11.5,"y":0.141},{"s":"Sn","x":12.8,"y":0.0708},{"s":"Sn","x":14.3,"y":0.0398},{"s":"Sn","x":15.8,"y":0.02},{"s":"Sn","x":17.4,"y":0.0112},{"s":"Sn","x":19,"y":0.0112},{"s":"Sn","x":20.5,"y":0.0135},{"s":"Sn","x":21.6,"y":0.0126},{"s":"Sn","x":22.6,"y":0.00955},{"s":"Sn","x":23.7,"y":0.00398},{"s":"Sn","x":24.7,"y":0.00158},{"s":"Sn","x":25.9,"y":5.01e-4},{"s":"Sn","x":27.1,"y":1.29e-4},{"s":"Sn","x":28,"y":3.98e-4},{"s":"Sn","x":28.9,"y":0.0011},{"s":"Sn","x":30.2,"y":0.00316},{"s":"Sn","x":31.5,"y":0.00457},{"s":"Sn","x":32.8,"y":0.00417},{"s":"Sn","x":34.1,"y":0.00324},{"s":"Sn","x":35.7,"y":0.00141},{"s":"Sn","x":37.2,"y":7.59e-4},{"s":"Sn","x":38.7,"y":0.001},{"s":"Sn","x":40.3,"y":0.00132},{"s":"Sn","x":41.8,"y":0.00141},{"s":"Sn","x":43.4,"y":0.00132},{"s":"Sn","x":45,"y":8.91e-4},{"s":"Sn","x":46.6,"y":5.37e-4},{"s":"Sn","x":48.5,"y":4.47e-4},{"s":"Sn","x":50.7,"y":4.47e-4},{"s":"Sn","x":53.8,"y":3.09e-4},{"s":"Sn","x":58,"y":1.55e-4},{"s":"Sn","x":62.2,"y":1.07e-4},{"s":"Sn","x":65.3,"y":7.59e-5},{"s":"Sn","x":68.4,"y":5.25e-5},{"s":"Sn","x":74.7,"y":2.57e-5},{"s":"Sn","x":80.9,"y":1.05e-5},{"s":"Sn","x":87.2,"y":5.13e-6},{"s":"Sn","x":93.4,"y":2.51e-6},{"s":"Sn","x":99.7,"y":1.02e-6},{"s":"Sn","x":102.5,"y":1.12e-6},{"s":"Sn","x":104.9,"y":7.08e-7},{"s":"Sn","x":108.5,"y":4.47e-7},{"s":"Sn","x":112.2,"y":2.95e-7},{"s":"Sn","x":114.5,"y":3.98e-7},{"s":"Sn","x":116.3,"y":4.57e-7},{"s":"Sn","x":118.5,"y":3.16e-7},{"s":"Sn","x":120.5,"y":2.04e-7},{"s":"Sn","x":122.5,"y":1.26e-7},{"s":"Sn","x":124.2,"y":1e-7},{"s":"Sn","x":125.5,"y":1.12e-7},{"s":"Sn","x":126.8,"y":1.45e-7},{"s":"Sn","x":128.5,"y":2.0e-7},{"s":"Sn","x":130,"y":2.95e-7},
{"s":"Pb","x":0.5,"y":1e4},{"s":"Pb","x":0.9,"y":1820},{"s":"Pb","x":1.5,"y":501},{"s":"Pb","x":2.3,"y":151},{"s":"Pb","x":3.0,"y":31.6},{"s":"Pb","x":3.8,"y":8.51},{"s":"Pb","x":4.8,"y":1.58},{"s":"Pb","x":5.9,"y":0.398},{"s":"Pb","x":7,"y":0.158},{"s":"Pb","x":8.5,"y":0.112},{"s":"Pb","x":10.1,"y":0.0813},{"s":"Pb","x":12.2,"y":0.0501},{"s":"Pb","x":14.3,"y":0.0275},{"s":"Pb","x":15.3,"y":0.0112},{"s":"Pb","x":16.3,"y":0.00324},{"s":"Pb","x":17.3,"y":0.001},{"s":"Pb","x":18.4,"y":4.47e-4},{"s":"Pb","x":20,"y":2.82e-4},{"s":"Pb","x":21.6,"y":2.19e-4},{"s":"Pb","x":23.2,"y":1.26e-4},{"s":"Pb","x":24.7,"y":7.59e-5},{"s":"Pb","x":26,"y":5.62e-5},{"s":"Pb","x":27.3,"y":4.47e-5},{"s":"Pb","x":28.6,"y":3.16e-5},{"s":"Pb","x":29.9,"y":2.57e-5},{"s":"Pb","x":31.5,"y":2.14e-5},{"s":"Pb","x":33,"y":1.82e-5},{"s":"Pb","x":34.6,"y":1.51e-5},{"s":"Pb","x":36.2,"y":7.41e-6},{"s":"Pb","x":37.5,"y":2.51e-6},{"s":"Pb","x":38.8,"y":1.02e-6},{"s":"Pb","x":39.5,"y":2.51e-6},{"s":"Pb","x":40.3,"y":5.13e-6},{"s":"Pb","x":42.4,"y":6.17e-6},{"s":"Pb","x":44,"y":4.47e-6},{"s":"Pb","x":45.5,"y":2.51e-6},{"s":"Pb","x":46.8,"y":1.41e-6},{"s":"Pb","x":48.1,"y":1.23e-6},{"s":"Pb","x":49.7,"y":2.09e-6},{"s":"Pb","x":51.2,"y":2.63e-6},{"s":"Pb","x":52.8,"y":2.51e-6},{"s":"Pb","x":54.3,"y":1.78e-6},{"s":"Pb","x":55.9,"y":1.23e-6},{"s":"Pb","x":58,"y":7.08e-7},{"s":"Pb","x":59.6,"y":8.32e-7},{"s":"Pb","x":61.2,"y":1.02e-6},{"s":"Pb","x":63.2,"y":7.59e-7},{"s":"Pb","x":65.3,"y":5.01e-7},{"s":"Pb","x":68.4,"y":2.95e-7},{"s":"Pb","x":71.5,"y":2.4e-7},{"s":"Pb","x":74.7,"y":2.04e-7},{"s":"Pb","x":77.8,"y":1.58e-7},{"s":"Pb","x":80.9,"y":1.2e-7},{"s":"Pb","x":84,"y":8.32e-8},{"s":"Pb","x":87.2,"y":5.89e-8},{"s":"Pb","x":90.3,"y":4.47e-8},{"s":"Pb","x":93.4,"y":3.39e-8},{"s":"Pb","x":96.5,"y":2.4e-8},{"s":"Pb","x":99.7,"y":1.66e-8},{"s":"Pb","x":102.8,"y":2.4e-8},{"s":"Pb","x":105.9,"y":9.77e-9},{"s":"Pb","x":110.1,"y":5.75e-9},{"s":"Pb","x":112,"y":1e-8},{"s":"Pb","x":114.3,"y":1.41e-8},{"s":"Pb","x":116.3,"y":7.94e-9},{"s":"Pb","x":118.4,"y":3.39e-9},{"s":"Pb","x":121.5,"y":6.31e-9},{"s":"Pb","x":124.7,"y":9.77e-9},{"s":"Pb","x":127,"y":6.31e-9},{"s":"Pb","x":129.9,"y":1.62e-9}
],
"cP":[
{"s":"C","x":14.3,"y":676},{"s":"C","x":15.8,"y":363},{"s":"C","x":17.4,"y":214},{"s":"C","x":19,"y":123},{"s":"C","x":20.5,"y":77.6},{"s":"C","x":22.1,"y":67.6},{"s":"C","x":23.7,"y":77.6},{"s":"C","x":25.2,"y":87.1},{"s":"C","x":26.8,"y":87.1},{"s":"C","x":28.3,"y":87.1},{"s":"C","x":29.9,"y":72.4},{"s":"C","x":31.5,"y":60.3},{"s":"C","x":33,"y":50.1},{"s":"C","x":34.6,"y":38},{"s":"C","x":36.2,"y":29.5},{"s":"C","x":38.2,"y":20.9},{"s":"C","x":40.3,"y":14.5},{"s":"C","x":41.8,"y":11.2},{"s":"C","x":43.4,"y":8.51},{"s":"C","x":45,"y":7.08},{"s":"C","x":46.6,"y":6.03},{"s":"C","x":48.1,"y":5.01},{"s":"C","x":49.7,"y":4.17},{"s":"C","x":51.2,"y":3.8},{"s":"C","x":52.8,"y":3.47},{"s":"C","x":54,"y":2.82},{"s":"C","x":55.4,"y":2.4},{"s":"C","x":56.8,"y":2.04},{"s":"C","x":57.5,"y":1.7},{"s":"C","x":59,"y":1.41},{"s":"C","x":60.5,"y":1.2},{"s":"C","x":62.2,"y":1.0},{"s":"C","x":63.8,"y":0.832},{"s":"C","x":65.3,"y":0.692},{"s":"C","x":66.8,"y":0.589},{"s":"C","x":68.4,"y":0.49},{"s":"C","x":70,"y":0.38},{"s":"C","x":71.6,"y":0.302},{"s":"C","x":73.2,"y":0.245},{"s":"C","x":74.7,"y":0.2},{"s":"C","x":76.2,"y":0.166},{"s":"C","x":77.8,"y":0.138},{"s":"C","x":79.2,"y":0.115},{"s":"C","x":80.3,"y":0.0977},{"s":"C","x":80.9,"y":0.0794},
{"s":"Ni","x":8,"y":72.4},{"s":"Ni","x":9.6,"y":24.5},{"s":"Ni","x":10.6,"y":12},{"s":"Ni","x":11.7,"y":7.08},{"s":"Ni","x":12.7,"y":1.7},{"s":"Ni","x":13.8,"y":2.4},{"s":"Ni","x":15.3,"y":3.47},{"s":"Ni","x":16.9,"y":3.47},{"s":"Ni","x":18.4,"y":2.04},{"s":"Ni","x":20,"y":1.0},{"s":"Ni","x":21,"y":0.407},{"s":"Ni","x":21.6,"y":0.138},{"s":"Ni","x":22.5,"y":0.112},{"s":"Ni","x":23.6,"y":0.339},{"s":"Ni","x":25.7,"y":0.692},{"s":"Ni","x":27.3,"y":0.692},{"s":"Ni","x":28.8,"y":0.646},{"s":"Ni","x":31,"y":0.339},{"s":"Ni","x":33,"y":0.282},{"s":"Ni","x":35.1,"y":0.219},{"s":"Ni","x":37.2,"y":0.24},{"s":"Ni","x":39.3,"y":0.219},{"s":"Ni","x":41.3,"y":0.166},{"s":"Ni","x":43.4,"y":0.126},{"s":"Ni","x":45.5,"y":0.132},{"s":"Ni","x":47.6,"y":0.115},{"s":"Ni","x":50.2,"y":0.0676},{"s":"Ni","x":51.8,"y":0.0562},{"s":"Ni","x":53.8,"y":0.0479},{"s":"Ni","x":55.9,"y":0.0331},{"s":"Ni","x":58.5,"y":0.0191},{"s":"Ni","x":61.2,"y":0.0112},{"s":"Ni","x":63.8,"y":0.00661},{"s":"Ni","x":66.4,"y":0.00457},{"s":"Ni","x":69,"y":0.00324},{"s":"Ni","x":71.6,"y":0.00224},{"s":"Ni","x":74.2,"y":0.00155},{"s":"Ni","x":76.8,"y":0.0011},{"s":"Ni","x":79.4,"y":9.12e-4},{"s":"Ni","x":82,"y":6.46e-4},{"s":"Ni","x":84.6,"y":4.47e-4},{"s":"Ni","x":87.2,"y":3.09e-4},{"s":"Ni","x":89.8,"y":3.8e-4},{"s":"Ni","x":91.9,"y":3.09e-4},{"s":"Ni","x":94.5,"y":2.19e-4},{"s":"Ni","x":97.1,"y":1.51e-4},{"s":"Ni","x":99.7,"y":1.07e-4},{"s":"Ni","x":102.3,"y":7.41e-5},{"s":"Ni","x":104.9,"y":5.25e-5},{"s":"Ni","x":107,"y":4.37e-5},{"s":"Ni","x":109.6,"y":3.63e-5},{"s":"Ni","x":112.2,"y":2.57e-5},
{"s":"Sn","x":10.1,"y":0.107},{"s":"Sn","x":12.2,"y":0.115},{"s":"Sn","x":13.8,"y":0.0977},{"s":"Sn","x":15.3,"y":0.0813},{"s":"Sn","x":16.4,"y":0.0479},{"s":"Sn","x":18.2,"y":0.00661},{"s":"Sn","x":19.3,"y":0.00251},{"s":"Sn","x":20.5,"y":0.00324},{"s":"Sn","x":22.1,"y":0.00661},{"s":"Sn","x":23.1,"y":0.00589},{"s":"Sn","x":24.5,"y":0.00269},{"s":"Sn","x":26.3,"y":0.0011},{"s":"Sn","x":27.3,"y":4.47e-4},{"s":"Sn","x":28.3,"y":0.0011},{"s":"Sn","x":29.9,"y":0.00204},{"s":"Sn","x":30.9,"y":0.00224},{"s":"Sn","x":33,"y":0.00155},{"s":"Sn","x":35.1,"y":0.0011},{"s":"Sn","x":36.7,"y":5.37e-4},{"s":"Sn","x":38.2,"y":7.59e-4},{"s":"Sn","x":40.8,"y":0.0011},{"s":"Sn","x":42.9,"y":8.13e-4},{"s":"Sn","x":44.5,"y":4.47e-4},{"s":"Sn","x":46.6,"y":3.8e-4},{"s":"Sn","x":48.6,"y":3.8e-4},{"s":"Sn","x":50.7,"y":3.8e-4},{"s":"Sn","x":53.8,"y":2.63e-4},{"s":"Sn","x":57,"y":1.55e-4},{"s":"Sn","x":60.1,"y":1.29e-4},
{"s":"Pb","x":13.2,"y":0.00324},{"s":"Pb","x":14.3,"y":0.00191},{"s":"Pb","x":16.9,"y":3.09e-4},{"s":"Pb","x":18.2,"y":2.63e-4},{"s":"Pb","x":19.5,"y":3.8e-4},{"s":"Pb","x":21,"y":3.09e-4},{"s":"Pb","x":22.4,"y":1.55e-4},{"s":"Pb","x":23.1,"y":6.31e-5},{"s":"Pb","x":24.2,"y":2.29e-5},{"s":"Pb","x":25.5,"y":2.29e-5},{"s":"Pb","x":26.8,"y":4.47e-5},{"s":"Pb","x":28,"y":3.72e-5},{"s":"Pb","x":29.4,"y":2.0e-5},{"s":"Pb","x":31,"y":7.94e-6},{"s":"Pb","x":32.5,"y":8.13e-6},{"s":"Pb","x":34.1,"y":8.91e-6},{"s":"Pb","x":35.1,"y":7.41e-6},{"s":"Pb","x":37.2,"y":3.02e-6},{"s":"Pb","x":38,"y":1.78e-6},{"s":"Pb","x":39.8,"y":4.37e-6},{"s":"Pb","x":41.3,"y":5.13e-6},{"s":"Pb","x":42.9,"y":4.37e-6},{"s":"Pb","x":44,"y":3.63e-6},{"s":"Pb","x":45,"y":2.09e-6},{"s":"Pb","x":46.6,"y":1.78e-6},{"s":"Pb","x":48.1,"y":2.09e-6},{"s":"Pb","x":49.7,"y":2.51e-6},{"s":"Pb","x":50.7,"y":2.69e-6},{"s":"Pb","x":52.8,"y":1.78e-6},{"s":"Pb","x":55.4,"y":1.32e-6},{"s":"Pb","x":58,"y":1.02e-6},{"s":"Pb","x":60.6,"y":1.1e-6},{"s":"Pb","x":63.2,"y":7.94e-7},{"s":"Pb","x":65.3,"y":6.46e-7},{"s":"Pb","x":67.9,"y":6.03e-7},{"s":"Pb","x":70.3,"y":4.17e-7},{"s":"Pb","x":72.8,"y":3.16e-7},{"s":"Pb","x":75.5,"y":2.45e-7},{"s":"Pb","x":80.4,"y":1.41e-7},{"s":"Pb","x":85.4,"y":9.33e-8},{"s":"Pb","x":90.3,"y":5.89e-8},{"s":"Pb","x":94.5,"y":3.8e-8},{"s":"Pb","x":98.7,"y":2.4e-8},{"s":"Pb","x":102.6,"y":1.66e-8},{"s":"Pb","x":106.8,"y":1.29e-8},{"s":"Pb","x":110.1,"y":8.71e-9},{"s":"Pb","x":114.5,"y":5.75e-9},{"s":"Pb","x":118.2,"y":4.27e-9},{"s":"Pb","x":122.4,"y":3.02e-9},{"s":"Pb","x":126.3,"y":2.09e-9}
]
},
"vconcat":[
{
"width":414,"height":338,
"resolve":{"axis":{"x":"independent","y":"independent"}},
"layer":[
{"data":{"name":"aL"},
"mark":{"type":"line","clip":true,"strokeWidth":1.2,"interpolate":"monotone"},
"encoding":{
"x":{"field":"x","type":"quantitative","scale":{"domain":[0,180],"nice":false,"zero":false},
"axis":{"orient":"bottom","values":[0,20,40,60,80,100,120,140,160,180],"ticks":false,"domainColor":"#444","labelFont":"DejaVu Sans","labelFontSize":14,"labelColor":"#222","labelPadding":9,"labelFlush":false,"labelOverlap":false,"title":"Θc.m.(deg)","titleFont":"DejaVu Sans","titleFontSize":14,"titleFontWeight":"normal","titleColor":"#222","titlePadding":17}},
"y":{"field":"y","type":"quantitative","scale":{"type":"log","domain":[1e-6,1e6],"nice":false},
"axis":{"orient":"left","values":[1e-6,1e-4,0.01,1,100,10000,1000000],"ticks":false,"domainColor":"#444","labelExpr":"['10⁻⁶','10⁻⁴','10⁻²','10⁰','10²','10⁴','10⁶'][round(log(datum.value)/LN10/2)+3]","labelFont":"DejaVu Sans","labelFontSize":14,"labelColor":"#222","labelPadding":9,"labelOverlap":false,"labelFlush":false,"title":"dσ/dΩ (mb/sr)","titleFont":"DejaVu Sans","titleFontSize":14,"titleFontWeight":"normal","titleColor":"#222","titleX":-57,"titleBaseline":"middle"}},
"color":{"field":"s","type":"nominal","scale":{"domain":["Mg","MgL","Ni","Cd","Bi"],"range":["#2b2bff","#4d4dff","#ff3030","#33e633","#ffb347"]},
"legend":{"orient":"none","legendX":367,"legendY":9,"direction":"vertical","title":null,"symbolType":"M-5.25,0L5.25,0","symbolSize":64,"symbolStrokeWidth":1.5,"labelAlign":"right","labelOffset":-35,"labelFont":"DejaVu Sans","labelFontSize":13,"labelFontWeight":"normal","labelColor":"#222","rowPadding":3,"padding":0,"labelLimit":400,"labelExpr":"datum.label=='Mg'?'Mg-24, Ed = 12.1 MeV':datum.label=='MgL'?'Mg-24, Ed = 12.1 MeV (local fit)':datum.label=='Ni'?'Ni-58, Ed = 12.8 MeV':datum.label=='Cd'?'Cd-114, Ed = 13.0 MeV':'Bi-209, Ed = 12.8 MeV'"}},
"strokeDash":{"field":"s","type":"nominal","scale":{"domain":["Mg","MgL","Ni","Cd","Bi"],"range":[[1,0],[5,4],[1,0],[1,0],[1,0]]},
"legend":{"orient":"none","legendX":367,"legendY":9,"direction":"vertical","title":null,"symbolType":"M-5.25,0L5.25,0","symbolSize":64,"symbolStrokeWidth":1.5,"labelAlign":"right","labelOffset":-35,"labelFont":"DejaVu Sans","labelFontSize":13,"labelFontWeight":"normal","labelColor":"#222","rowPadding":3,"padding":0,"labelLimit":400,"labelExpr":"datum.label=='Mg'?'Mg-24, Ed = 12.1 MeV':datum.label=='MgL'?'Mg-24, Ed = 12.1 MeV (local fit)':datum.label=='Ni'?'Ni-58, Ed = 12.8 MeV':datum.label=='Cd'?'Cd-114, Ed = 13.0 MeV':'Bi-209, Ed = 12.8 MeV'"}}
}},
{"data":{"name":"aP"},
"mark":{"type":"point","shape":"M-1,0L1,0M0,-1L0,1","size":70,"strokeWidth":1.4,"color":"black","filled":false,"opacity":1},
"encoding":{
"x":{"field":"x","type":"quantitative","scale":{"domain":[0,180],"nice":false,"zero":false},"axis":{"orient":"bottom","values":[0,20,40,60,80,100,120,140,160,180],"labels":false,"domain":false,"tickSize":-6,"tickColor":"#444","title":null}},
"y":{"field":"y","type":"quantitative","scale":{"type":"log","domain":[1e-6,1e6],"nice":false},"axis":{"orient":"left","values":[1e-6,1e-5,1e-4,1e-3,0.01,0.1,1,10,100,1000,10000,100000,1000000],"labels":false,"domain":false,"tickSize":-6,"tickColor":"#444","title":null}}
}},
{"data":{"name":"aP"},
"mark":{"type":"point","opacity":0},
"encoding":{
"x":{"field":"x","type":"quantitative","scale":{"domain":[0,180],"nice":false,"zero":false},"axis":{"orient":"top","values":[0,20,40,60,80,100,120,140,160,180],"labels":false,"domainColor":"#444","tickSize":-6,"tickColor":"#444","title":null,"minExtent":0}},
"y":{"field":"y","type":"quantitative","scale":{"type":"log","domain":[1e-6,1e6],"nice":false},"axis":{"orient":"right","values":[1e-6,1e-5,1e-4,1e-3,0.01,0.1,1,10,100,1000,10000,100000,1000000],"labels":false,"domainColor":"#444","tickSize":-6,"tickColor":"#444","title":null,"minExtent":0}}
}},
{"data":{"values":[{}]},
"mark":{"type":"text","font":"DejaVu Sans","fontSize":14,"color":"#222","align":"center","baseline":"middle"},
"encoding":{"x":{"datum":42,"type":"quantitative","axis":null},"y":{"datum":90000,"type":"quantitative","axis":null},"text":{"value":"(a)"}}}
]
},
{
"width":417,"height":343,
"resolve":{"axis":{"x":"independent","y":"independent"}},
"layer":[
{"data":{"name":"bL"},
"mark":{"type":"line","clip":true,"strokeWidth":1,"interpolate":"monotone"},
"encoding":{
"x":{"field":"x","type":"quantitative","scale":{"domain":[0,160],"nice":false,"zero":false},
"axis":{"orient":"bottom","values":[0,20,40,60,80,100,120,140,160],"ticks":false,"domainColor":"black","labelFont":"Liberation Sans","labelFontSize":13,"labelColor":"#222","labelPadding":8,"labelFlush":false,"labelOverlap":false,"title":"Θc.m. (deg)","titleFont":"Liberation Sans","titleFontSize":14,"titleFontWeight":"normal","titleColor":"#222","titlePadding":5}},
"y":{"field":"y","type":"quantitative","scale":{"type":"log","domain":[1e-10,100],"nice":false},
"axis":{"orient":"left","values":[1e-10,1e-8,1e-6,1e-4,0.01,1,100],"ticks":false,"domainColor":"black","labelExpr":"['10⁻¹⁰','10⁻⁸','10⁻⁶','10⁻⁴','10⁻²','10⁰','10²'][round(log(datum.value)/LN10/2)+5]","labelFont":"Liberation Sans","labelFontSize":14,"labelColor":"#222","labelPadding":12,"labelOverlap":false,"labelFlush":false,"title":"dσ/dΩ (mb/sr)","titleFont":"Liberation Sans","titleFontSize":15,"titleFontWeight":"normal","titleColor":"#222","titleX":-63,"titleBaseline":"middle"}},
"color":{"field":"s","type":"nominal","scale":{"domain":["C","Ni","Zr","Pb"],"range":["#2a2aff","#ff2a2a","#2aee2a","#ffa820"]},"legend":null}
}},
{"data":{"name":"bP"},
"mark":{"type":"point","shape":"M0,-1L0,1M-0.87,-0.5L0.87,0.5M-0.87,0.5L0.87,-0.5","size":40,"strokeWidth":1.8,"color":"black","filled":false,"opacity":1},
"encoding":{
"x":{"field":"x","type":"quantitative","scale":{"domain":[0,160],"nice":false,"zero":false},"axis":{"orient":"bottom","values":[0,20,40,60,80,100,120,140,160],"labels":false,"domain":false,"tickSize":-6,"tickColor":"black","title":null}},
"y":{"field":"y","type":"quantitative","scale":{"type":"log","domain":[1e-10,100],"nice":false},"axis":{"orient":"left","values":[1e-10,1e-9,1e-8,1e-7,1e-6,1e-5,1e-4,1e-3,0.01,0.1,1,10,100],"labels":false,"domain":false,"tickSize":-6,"tickColor":"black","title":null}}
}},
{"data":{"name":"bP"},
"mark":{"type":"point","opacity":0},
"encoding":{
"x":{"field":"x","type":"quantitative","scale":{"domain":[0,160],"nice":false,"zero":false},"axis":{"orient":"top","values":[0,20,40,60,80,100,120,140,160],"labels":false,"domainColor":"black","tickSize":-6,"tickColor":"black","title":null,"minExtent":0}},
"y":{"field":"y","type":"quantitative","scale":{"type":"log","domain":[1e-10,100],"nice":false},"axis":{"orient":"right","values":[1e-10,1e-9,1e-8,1e-7,1e-6,1e-5,1e-4,1e-3,0.01,0.1,1,10,100],"labels":false,"domainColor":"black","tickSize":-6,"tickColor":"black","title":null,"minExtent":0}}
}},
{"data":{"values":[{}]},
"mark":{"type":"text","font":"Liberation Sans","fontSize":15,"color":"#222","align":"left","baseline":"middle"},
"encoding":{"x":{"datum":102.8,"type":"quantitative","axis":null},"y":{"datum":21.6,"type":"quantitative","axis":null},"text":{"value":"(b)    Ed = 56 MeV"}}},
{"data":{"values":[{}]},
"mark":{"type":"text","font":"Liberation Sans","fontSize":11,"color":"#333","align":"center","baseline":"middle"},
"encoding":{"x":{"datum":126.6,"type":"quantitative","axis":null},"y":{"datum":1.51,"type":"quantitative","axis":null},"text":{"value":"C-12"}}},
{"data":{"values":[{}]},
"mark":{"type":"text","font":"Liberation Sans","fontSize":11,"color":"#333","align":"center","baseline":"middle"},
"encoding":{"x":{"datum":34.5,"type":"quantitative","axis":null},"y":{"datum":0.0155,"type":"quantitative","axis":null},"text":{"value":"Ni-58"}}},
{"data":{"values":[{}]},
"mark":{"type":"text","font":"Liberation Sans","fontSize":11,"color":"#333","align":"center","baseline":"middle"},
"encoding":{"x":{"datum":57.6,"type":"quantitative","axis":null},"y":{"datum":1.05e-4,"type":"quantitative","axis":null},"text":{"value":"Zr-90"}}},
{"data":{"values":[{}]},
"mark":{"type":"text","font":"Liberation Sans","fontSize":11,"color":"#333","align":"center","baseline":"middle"},
"encoding":{"x":{"datum":87.5,"type":"quantitative","axis":null},"y":{"datum":4.9e-8,"type":"quantitative","axis":null},"text":{"value":"Pb-208"}}}
]
},
{
"width":417,"height":343,
"resolve":{"axis":{"x":"independent","y":"independent"}},
"layer":[
{"data":{"name":"cL"},
"mark":{"type":"line","clip":true,"strokeWidth":1,"interpolate":"monotone"},
"encoding":{
"x":{"field":"x","type":"quantitative","scale":{"domain":[0,130],"nice":false,"zero":false},
"axis":{"orient":"bottom","values":[0,10,20,30,40,50,60,70,80,90,100,110,120,130],"ticks":false,"domainColor":"#333","labelFont":"Liberation Sans","labelFontSize":14,"labelColor":"#333","labelPadding":8,"labelFlush":false,"labelOverlap":false,"title":"Θc.m. (deg)","titleFont":"Liberation Sans","titleFontSize":14,"titleFontWeight":"normal","titleColor":"#333","titlePadding":3}},
"y":{"field":"y","type":"quantitative","scale":{"type":"log","domain":[1e-10,1e6],"nice":false},
"axis":{"orient":"left","values":[1e-10,1e-8,1e-6,1e-4,0.01,1,100,10000,1000000],"ticks":false,"domainColor":"#333","labelExpr":"['10⁻¹⁰','10⁻⁸','10⁻⁶','10⁻⁴','10⁻²','10⁰','10²','10⁴','10⁶'][round(log(datum.value)/LN10/2)+5]","labelFont":"Liberation Sans","labelFontSize":14,"labelColor":"#333","labelPadding":12,"labelOverlap":false,"labelFlush":false,"title":"dσ/dΩ (mb/sr)","titleFont":"Liberation Sans","titleFontSize":15,"titleFontWeight":"normal","titleColor":"#333","titleX":-62,"titleBaseline":"middle"}},
"color":{"field":"s","type":"nominal","scale":{"domain":["C","Ni","Sn","Pb"],"range":["#3c3c7c","#a84848","#3cc43c","#d4a0d4"]},
"legend":{"orient":"none","legendX":371,"legendY":14,"direction":"vertical","title":null,"symbolType":"M-5.25,0L5.25,0","symbolSize":64,"symbolStrokeWidth":1.5,"labelAlign":"left","labelOffset":-156,"labelFont":"Liberation Sans","labelFontSize":12,"labelFontWeight":"normal","labelColor":"#333","rowPadding":4,"padding":0,"labelLimit":400,"labelExpr":"datum.label=='C'?'C-12, Ed = 77.3 MeV':datum.label=='Ni'?'Ni-58, Ed = 79.0 MeV':datum.label=='Sn'?'Sn-116, Ed = 79.2 MeV':'Pb-206, Ed = 79.4 MeV'"}}
}},
{"data":{"name":"cP"},
"mark":{"type":"point","shape":"M0,-1L0.35,-0.35L1,0L0.35,0.35L0,1L-0.35,0.35L-1,0L-0.35,-0.35Z","size":45,"color":"black","filled":true,"opacity":1},
"encoding":{
"x":{"field":"x","type":"quantitative","scale":{"domain":[0,130],"nice":false,"zero":false},"axis":{"orient":"bottom","values":[0,10,20,30,40,50,60,70,80,90,100,110,120,130],"labels":false,"domain":false,"tickSize":-5,"tickColor":"#333","title":null}},
"y":{"field":"y","type":"quantitative","scale":{"type":"log","domain":[1e-10,1e6],"nice":false},"axis":{"orient":"left","values":[1e-10,1e-9,1e-8,1e-7,1e-6,1e-5,1e-4,1e-3,0.01,0.1,1,10,100,1000,10000,100000,1000000],"labels":false,"domain":false,"tickSize":-5,"tickColor":"#333","title":null}}
}},
{"data":{"name":"cP"},
"mark":{"type":"point","opacity":0},
"encoding":{
"x":{"field":"x","type":"quantitative","scale":{"domain":[0,130],"nice":false,"zero":false},"axis":{"orient":"top","values":[0,10,20,30,40,50,60,70,80,90,100,110,120,130],"labels":false,"domainColor":"#333","tickSize":-5,"tickColor":"#333","title":null,"minExtent":0}},
"y":{"field":"y","type":"quantitative","scale":{"type":"log","domain":[1e-10,1e6],"nice":false},"axis":{"orient":"right","values":[1e-10,1e-9,1e-8,1e-7,1e-6,1e-5,1e-4,1e-3,0.01,0.1,1,10,100,1000,10000,100000,1000000],"labels":false,"domainColor":"#333","tickSize":-5,"tickColor":"#333","title":null,"minExtent":0}}
}},
{"data":{"values":[{}]},
"mark":{"type":"text","font":"Liberation Sans","fontSize":13,"color":"#333","align":"center","baseline":"middle"},
"encoding":{"x":{"datum":61.3,"type":"quantitative","axis":null},"y":{"datum":11000,"type":"quantitative","axis":null},"text":{"value":"(c)"}}}
]
}
]
}
